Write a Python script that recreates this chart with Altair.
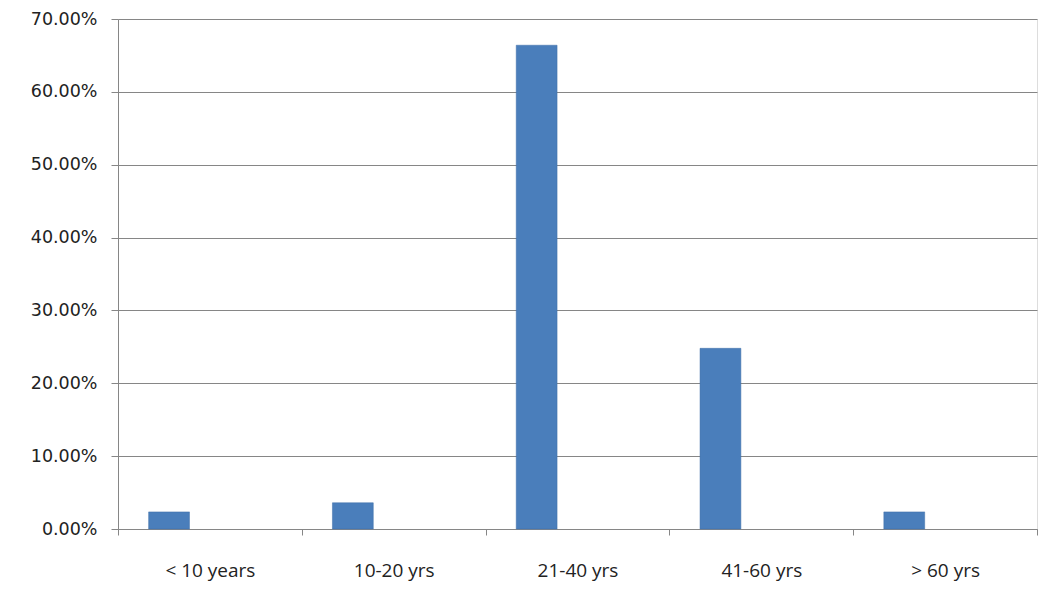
import altair as alt
import pandas as pd

categories = ["< 10 years", "10-20 yrs", "21-40 yrs", "41-60 yrs", "> 60 yrs"]
values = [0.0235, 0.036, 0.664, 0.248, 0.0235]
series = ["S1", "S1", "S1", "S1", "S1"]
series_domain = ["S1", "S2", "S3"]

df = pd.DataFrame({"cat": categories, "val": values, "series": series})

chart = alt.Chart(df).mark_bar(color="#4A7EBB", stroke="#3F6FA8", strokeWidth=0.5).encode(
    x=alt.X("cat:N", sort=categories, title=None,
            scale=alt.Scale(paddingInner=0, paddingOuter=0),
            axis=alt.Axis(labelAngle=0, tickBand="extent", labelPadding=26,
                          tickSize=6, labelFontSize=19, labelFont="Open Sans",
                          labelColor="#222", tickColor="#868686", domainColor="#868686",
                          grid=False)),
    xOffset=alt.XOffset("series:N", scale=alt.Scale(domain=series_domain, paddingInner=0, paddingOuter=0.75)),
    y=alt.Y("val:Q", title=None,
            scale=alt.Scale(domain=[0, 0.7], nice=False),
            axis=alt.Axis(format=".2%", values=[0, 0.1, 0.2, 0.3, 0.4, 0.5, 0.6, 0.7],
                          tickSize=7, labelPadding=14, labelFontSize=17.5, labelFont="DejaVu Sans",
                          labelColor="#222", tickColor="#868686", domainColor="#868686",
                          gridColor="#868686", gridOpacity=1)),
).properties(
    width=919, height=510,
    autosize=alt.AutoSizeParams(type="none"),
    padding={"left": 110, "top": 11, "right": 17, "bottom": 60},
).configure_view(stroke=None).configure(background="white")

chart.save("out.html", embed_options={"renderer": "svg", "actions": False})
